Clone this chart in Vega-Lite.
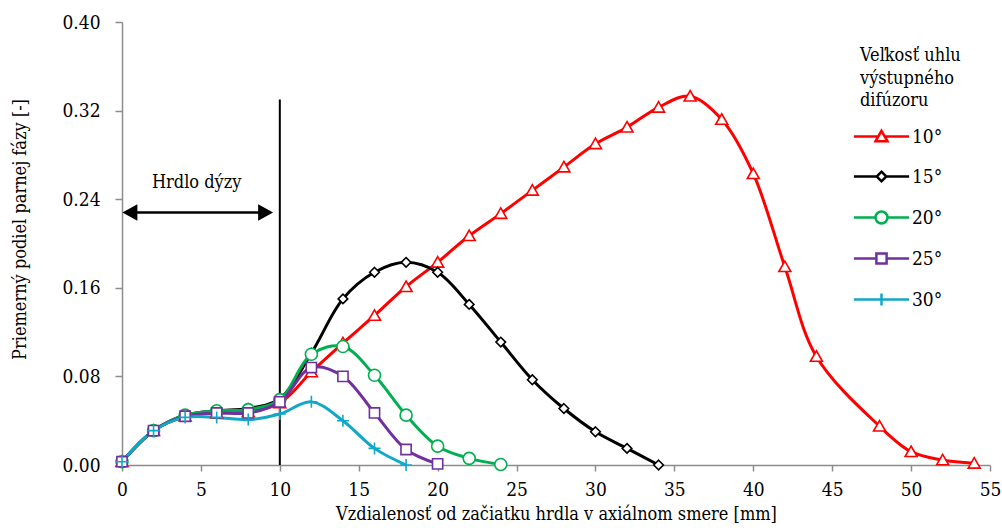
{
  "$schema": "https://vega.github.io/schema/vega-lite/v6.json",
  "width": 868,
  "height": 443,
  "autosize": {"type": "none"},
  "padding": {"left": 122, "top": 22, "right": 12, "bottom": 66},
  "background": "white",
  "config": {
    "view": {"stroke": null},
    "font": "DejaVu Serif Condensed, DejaVu Serif",
    "axis": {
      "grid": false,
      "domainColor": "#8c8c8c",
      "tickColor": "#8c8c8c",
      "domainWidth": 1.5,
      "tickWidth": 1.5,
      "labelFont": "DejaVu Serif Condensed, DejaVu Serif",
      "titleFont": "DejaVu Serif Condensed, DejaVu Serif",
      "labelColor": "black",
      "titleColor": "black",
      "titleFontWeight": "normal",
      "labelFontSize": 19,
      "titleFontSize": 18,
      "labelOverlap": false,
      "labelFlush": false
    }
  },
  "datasets": {
    "series": [
      {"uhol": "10°", "d": 0, "v": 0.003},
      {"uhol": "10°", "d": 2, "v": 0.031},
      {"uhol": "10°", "d": 4, "v": 0.044},
      {"uhol": "10°", "d": 6, "v": 0.047},
      {"uhol": "10°", "d": 8, "v": 0.048},
      {"uhol": "10°", "d": 10, "v": 0.056},
      {"uhol": "10°", "d": 12, "v": 0.084},
      {"uhol": "10°", "d": 14, "v": 0.110},
      {"uhol": "10°", "d": 16, "v": 0.135},
      {"uhol": "10°", "d": 18, "v": 0.161},
      {"uhol": "10°", "d": 20, "v": 0.183},
      {"uhol": "10°", "d": 22, "v": 0.207},
      {"uhol": "10°", "d": 24, "v": 0.227},
      {"uhol": "10°", "d": 26, "v": 0.248},
      {"uhol": "10°", "d": 28, "v": 0.269},
      {"uhol": "10°", "d": 30, "v": 0.290},
      {"uhol": "10°", "d": 32, "v": 0.305},
      {"uhol": "10°", "d": 34, "v": 0.323},
      {"uhol": "10°", "d": 36, "v": 0.333},
      {"uhol": "10°", "d": 38, "v": 0.312},
      {"uhol": "10°", "d": 40, "v": 0.263},
      {"uhol": "10°", "d": 42, "v": 0.179},
      {"uhol": "10°", "d": 44, "v": 0.098},
      {"uhol": "10°", "d": 48, "v": 0.035},
      {"uhol": "10°", "d": 50, "v": 0.012},
      {"uhol": "10°", "d": 52, "v": 0.0045},
      {"uhol": "10°", "d": 54, "v": 0.0015},
      {"uhol": "15°", "d": 0, "v": 0.003},
      {"uhol": "15°", "d": 2, "v": 0.031},
      {"uhol": "15°", "d": 4, "v": 0.045},
      {"uhol": "15°", "d": 6, "v": 0.049},
      {"uhol": "15°", "d": 8, "v": 0.051},
      {"uhol": "15°", "d": 10, "v": 0.060},
      {"uhol": "15°", "d": 12, "v": 0.101},
      {"uhol": "15°", "d": 14, "v": 0.150},
      {"uhol": "15°", "d": 16, "v": 0.174},
      {"uhol": "15°", "d": 18, "v": 0.183},
      {"uhol": "15°", "d": 20, "v": 0.174},
      {"uhol": "15°", "d": 22, "v": 0.145},
      {"uhol": "15°", "d": 24, "v": 0.111},
      {"uhol": "15°", "d": 26, "v": 0.077},
      {"uhol": "15°", "d": 28, "v": 0.051},
      {"uhol": "15°", "d": 30, "v": 0.030},
      {"uhol": "15°", "d": 32, "v": 0.015},
      {"uhol": "15°", "d": 34, "v": 0.0},
      {"uhol": "20°", "d": 0, "v": 0.003},
      {"uhol": "20°", "d": 2, "v": 0.031},
      {"uhol": "20°", "d": 4, "v": 0.045},
      {"uhol": "20°", "d": 6, "v": 0.049},
      {"uhol": "20°", "d": 8, "v": 0.050},
      {"uhol": "20°", "d": 10, "v": 0.059},
      {"uhol": "20°", "d": 12, "v": 0.100},
      {"uhol": "20°", "d": 14, "v": 0.107},
      {"uhol": "20°", "d": 16, "v": 0.081},
      {"uhol": "20°", "d": 18, "v": 0.045},
      {"uhol": "20°", "d": 20, "v": 0.017},
      {"uhol": "20°", "d": 22, "v": 0.006},
      {"uhol": "20°", "d": 24, "v": 0.0005},
      {"uhol": "25°", "d": 0, "v": 0.003},
      {"uhol": "25°", "d": 2, "v": 0.031},
      {"uhol": "25°", "d": 4, "v": 0.044},
      {"uhol": "25°", "d": 6, "v": 0.047},
      {"uhol": "25°", "d": 8, "v": 0.047},
      {"uhol": "25°", "d": 10, "v": 0.057},
      {"uhol": "25°", "d": 12, "v": 0.088},
      {"uhol": "25°", "d": 14, "v": 0.080},
      {"uhol": "25°", "d": 16, "v": 0.047},
      {"uhol": "25°", "d": 18, "v": 0.014},
      {"uhol": "25°", "d": 20, "v": 0.001},
      {"uhol": "30°", "d": 0, "v": 0.003},
      {"uhol": "30°", "d": 2, "v": 0.031},
      {"uhol": "30°", "d": 4, "v": 0.043},
      {"uhol": "30°", "d": 6, "v": 0.043},
      {"uhol": "30°", "d": 8, "v": 0.041},
      {"uhol": "30°", "d": 10, "v": 0.046},
      {"uhol": "30°", "d": 12, "v": 0.057},
      {"uhol": "30°", "d": 14, "v": 0.040},
      {"uhol": "30°", "d": 16, "v": 0.015},
      {"uhol": "30°", "d": 18, "v": 0.0}
    ],
    "throat": [{"d": 10, "v": 0, "v2": 0.33}],
    "arrow": [{"d": 0.25, "d2": 9.4, "v": 0.228}],
    "arrowL": [{"d": 0.5, "v": 0.228}],
    "arrowR": [{"d": 9.1, "v": 0.228}],
    "label": [{"d": 4.73, "v": 0.2546, "t": "Hrdlo dýzy"}]
  },
  "encoding": {
    "x": {
      "field": "d",
      "type": "quantitative",
      "scale": {"domain": [0, 55], "nice": false, "zero": false},
      "axis": {
        "values": [0, 5, 10, 15, 20, 25, 30, 35, 40, 45, 50, 55],
        "title": "Vzdialenosť od začiatku hrdla v axiálnom smere [mm]",
        "tickSize": 6,
        "labelPadding": 9,
        "titlePadding": 6
      }
    },
    "y": {
      "field": "v",
      "type": "quantitative",
      "scale": {"domain": [0, 0.4], "nice": false},
      "axis": {
        "values": [0, 0.08, 0.16, 0.24, 0.32, 0.4],
        "format": ".2f",
        "title": "Priemerný podiel parnej fázy [-]",
        "tickSize": 7,
        "labelPadding": 15,
        "titlePadding": 32,
        "titleY": 207
      }
    }
  },
  "resolve": {"scale": {"color": "independent", "stroke": "independent", "shape": "independent"}},
  "layer": [
    {
      "data": {"name": "throat"},
      "mark": {"type": "rule", "color": "black", "strokeWidth": 2},
      "encoding": {"y2": {"field": "v2"}}
    },
    {
      "data": {"name": "arrow"},
      "mark": {"type": "rule", "color": "black", "strokeWidth": 2.5},
      "encoding": {"x2": {"field": "d2"}}
    },
    {
      "data": {"name": "arrowL"},
      "mark": {"type": "point", "shape": "M-1,0L1,-1.1L1,1.1Z", "size": 225, "filled": true, "color": "black", "opacity": 1}
    },
    {
      "data": {"name": "arrowR"},
      "mark": {"type": "point", "shape": "M1,0L-1,-1.1L-1,1.1Z", "size": 225, "filled": true, "color": "black", "opacity": 1}
    },
    {
      "data": {"name": "label"},
      "mark": {"type": "text", "font": "DejaVu Serif Condensed, DejaVu Serif", "fontSize": 18, "color": "black", "align": "center", "baseline": "middle"},
      "encoding": {"text": {"field": "t"}}
    },
    {
      "data": {"name": "series"},
      "mark": {"type": "line", "interpolate": "catmull-rom", "strokeWidth": 3},
      "encoding": {
        "color": {
          "field": "uhol",
          "type": "nominal",
          "scale": {"domain": ["10°", "15°", "20°", "25°", "30°"], "range": ["#ff0000", "#000000", "#00b050", "#7030a0", "#10a8c8"]},
          "legend": null
        }
      }
    },
    {
      "data": {"name": "series"},
      "mark": {"type": "point", "filled": false, "fill": "white", "fillOpacity": 1, "opacity": 1, "strokeWidth": 1.6, "size": 144},
      "encoding": {
        "stroke": {
          "field": "uhol",
          "type": "nominal",
          "scale": {"domain": ["10°", "15°", "20°", "25°", "30°"], "range": ["#ff0000", "#000000", "#00b050", "#7030a0", "#10a8c8"]},
          "legend": null
        },
        "shape": {
          "field": "uhol",
          "type": "nominal",
          "scale": {
            "domain": ["10°", "15°", "20°", "25°", "30°"],
            "range": [
              "M0,-0.95L1,0.8L-1,0.8Z",
              "M0,-0.8L0.8,0L0,0.8L-0.8,0Z",
              "M-1,0A1,1 0 1,0 1,0A1,1 0 1,0 -1,0Z",
              "M-0.85,-0.85H0.85V0.85H-0.85Z",
              "M-1,0H1M0,-1V1"
            ]
          },
          "legend": null
        }
      }
    },
    {
      "data": {"name": "series"},
      "transform": [{"filter": "datum.d > 1000"}],
      "mark": {"type": "point", "filled": false, "opacity": 1, "strokeWidth": 2.5, "size": 144},
      "encoding": {
        "color": {
          "field": "uhol",
          "type": "nominal",
          "scale": {"domain": ["10°", "15°", "20°", "25°", "30°"], "range": ["#ff0000", "#000000", "#00b050", "#7030a0", "#10a8c8"]},
          "legend": {
            "title": ["Veľkosť uhlu", "výstupného", "difúzoru"],
            "orient": "none", "legendX": 738, "legendY": 25, "padding": 0,
            "titleFont": "DejaVu Serif Condensed, DejaVu Serif", "titleFontSize": 18, "titleFontWeight": "normal", "titleColor": "black", "titleLineHeight": 22.5, "titlePadding": 17,
            "labelFont": "DejaVu Serif Condensed, DejaVu Serif", "labelFontSize": 19, "labelColor": "black", "labelOffset": 33,
            "rowPadding": 19, "symbolSize": 144, "symbolStrokeWidth": 2.5, "symbolFillColor": "white", "symbolOpacity": 1
          }
        },
        "shape": {
          "field": "uhol",
          "type": "nominal",
          "scale": {
            "domain": ["10°", "15°", "20°", "25°", "30°"],
            "range": [
              "M-2.6,0H1.4M2.6,0H6.6M2,-0.95L3,0.8L1,0.8Z",
              "M-2.6,0H1.2M2.8,0H6.6M2,-0.8L2.8,0L2,0.8L1.2,0Z",
              "M-2.6,0H1M3,0H6.6M1,0A1,1 0 1,0 3,0A1,1 0 1,0 1,0Z",
              "M-2.6,0H1.15M2.85,0H6.6M1.15,-0.85H2.85V0.85H1.15Z",
              "M-2.6,0H6.6M2,-1V1"
            ]
          },
          "legend": {
            "title": ["Veľkosť uhlu", "výstupného", "difúzoru"],
            "orient": "none", "legendX": 738, "legendY": 25, "padding": 0,
            "titleFont": "DejaVu Serif Condensed, DejaVu Serif", "titleFontSize": 18, "titleFontWeight": "normal", "titleColor": "black", "titleLineHeight": 22.5, "titlePadding": 17,
            "labelFont": "DejaVu Serif Condensed, DejaVu Serif", "labelFontSize": 19, "labelColor": "black", "labelOffset": 33,
            "rowPadding": 19, "symbolSize": 144, "symbolStrokeWidth": 2.5, "symbolFillColor": "white", "symbolOpacity": 1
          }
        }
      }
    }
  ]
}
